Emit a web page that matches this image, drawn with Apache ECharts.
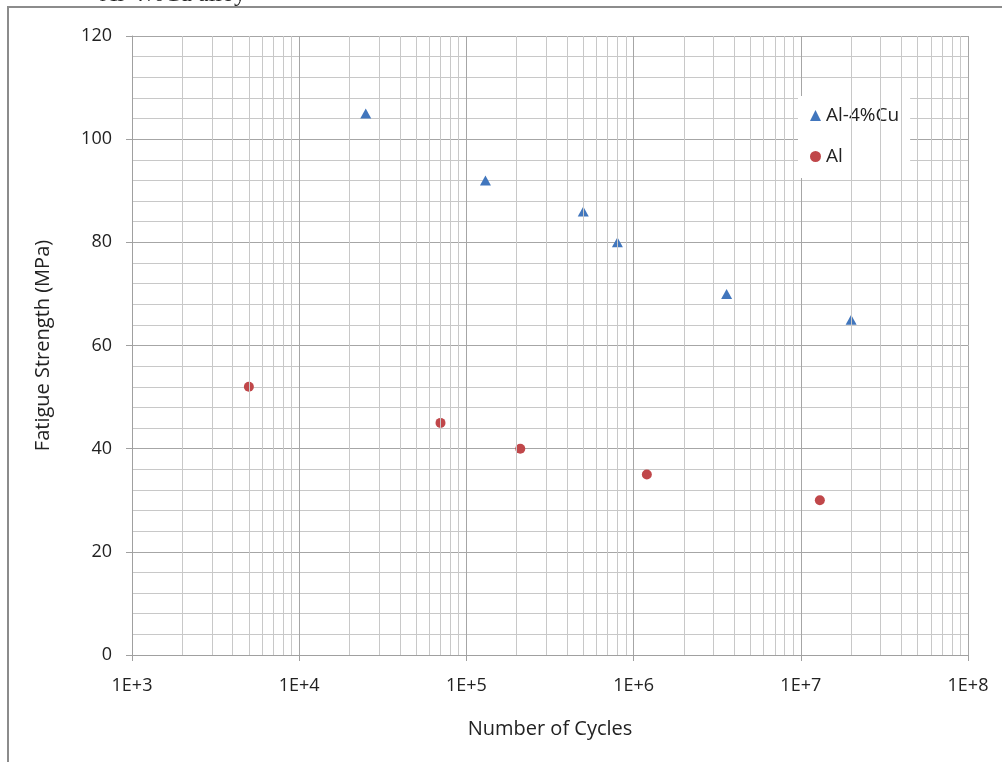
<!DOCTYPE html>
<html>
<head>
<meta charset="utf-8">
<script src="https://cdn.jsdelivr.net/npm/echarts@6/dist/echarts.min.js"></script>
<style>
	html, body { margin: 0; padding: 0; background: #fff; }
	#main { width: 1002px; height: 762px; }
</style>
</head>
<body>
<div id="main"></div>
<script>
// data
var cuCycles = [25000, 130000, 500000, 800000, 3600000, 20000000];
var cuStrength = [105, 92, 86, 80, 70, 65];
var alCycles = [5000, 70000, 210000, 1200000, 13000000];
var alStrength = [52, 45, 40, 35, 30];
var seriesNames = ['Al-4%Cu', 'Al'];
var decades = [3, 4, 5, 6, 7, 8];

function pairs(xs, ys) {
	var out = [];
	for (var i = 0; i < xs.length; i++) {
		out.push([xs[i], ys[i]]);
	}
	return out;
}

// minor vertical grid lines at 2..9 x 10^k (log axis minor ticks are not placed there)
var minorLines = [];
for (var d = 0; d < decades.length - 1; d++) {
	for (var m = 2; m <= 9; m++) {
		minorLines.push({ xAxis: m * Math.pow(10, decades[d]) });
	}
}

var txt = '#222';
var font = 'Open Sans';

var myChart = echarts.init(document.getElementById('main'));
var option = {
	animation: false,
	backgroundColor: '#fff',
	textStyle: { fontFamily: font },
	graphic: [{
		type: 'rect',
		shape: { x: 8, y: 7, width: 1200, height: 1000 },
		style: { fill: 'none', stroke: '#8c8c8c', lineWidth: 2 },
		silent: true
	}, {
		type: 'text',
		left: 100,
		top: -17,
		style: {
			text: 'Al-4%Cu alloy',
			font: '24px "Liberation Serif"',
			fill: '#222'
		},
		silent: true
	}],
	grid: {
		left: 132,
		right: 34,
		top: 36,
		bottom: 107
	},
	legend: {
		orient: 'vertical',
		left: 798,
		top: 96,
		padding: [10, 11, 12, 12],
		itemGap: 22,
		itemWidth: 11,
		itemHeight: 11,
		backgroundColor: '#fff',
		data: seriesNames,
		textStyle: { fontSize: 19, color: txt, fontFamily: font }
	},
	xAxis: {
		type: 'log',
		logBase: 10,
		min: 1000,
		max: 100000000,
		name: 'Number of Cycles',
		nameLocation: 'middle',
		nameGap: 64,
		nameTextStyle: { fontSize: 20, color: txt },
		axisLine: { lineStyle: { color: '#a0a0a0', width: 1 } },
		axisTick: { show: true, length: 6, lineStyle: { color: '#a0a0a0' } },
		axisLabel: {
			fontSize: 18,
			color: txt,
			margin: 22,
			formatter: function(v) {
				return '1E+' + Math.round(Math.log10(v));
			}
		},
		splitLine: { show: true, lineStyle: { color: '#a6a6a6', width: 1 } }
	},
	yAxis: {
		type: 'value',
		min: 0,
		max: 120,
		interval: 20,
		name: 'Fatigue Strength (MPa)',
		nameLocation: 'middle',
		nameGap: 79,
		nameTextStyle: { fontSize: 20, color: txt },
		axisLine: { show: true, lineStyle: { color: '#a0a0a0', width: 1 } },
		axisTick: { show: true, length: 6, lineStyle: { color: '#a0a0a0' } },
		axisLabel: { fontSize: 18, color: txt, margin: 20 },
		splitLine: { show: true, lineStyle: { color: '#a6a6a6', width: 1 } },
		minorTick: { show: false, splitNumber: 5 },
		minorSplitLine: { show: true, lineStyle: { color: '#c8c8c8', width: 1 } }
	},
	series: [{
		name: 'grid',
		type: 'scatter',
		data: [],
		z: 1,
		silent: true,
		markLine: {
			silent: true,
			symbol: ['none', 'none'],
			label: { show: false },
			lineStyle: { type: 'solid', color: '#c8c8c8', width: 1 },
			emphasis: { disabled: true },
			data: minorLines
		}
	}, {
		name: seriesNames[0],
		type: 'scatter',
		symbol: 'triangle',
		symbolSize: [11, 10],
		z: 3,
		itemStyle: { color: '#4176bd', opacity: 1 },
		data: pairs(cuCycles, cuStrength)
	}, {
		name: seriesNames[1],
		type: 'scatter',
		symbol: 'circle',
		symbolSize: 10,
		z: 3,
		itemStyle: { color: '#c0474a', opacity: 1 },
		data: pairs(alCycles, alStrength)
	}]
};
myChart.setOption(option);
</script>
</body>
</html>
